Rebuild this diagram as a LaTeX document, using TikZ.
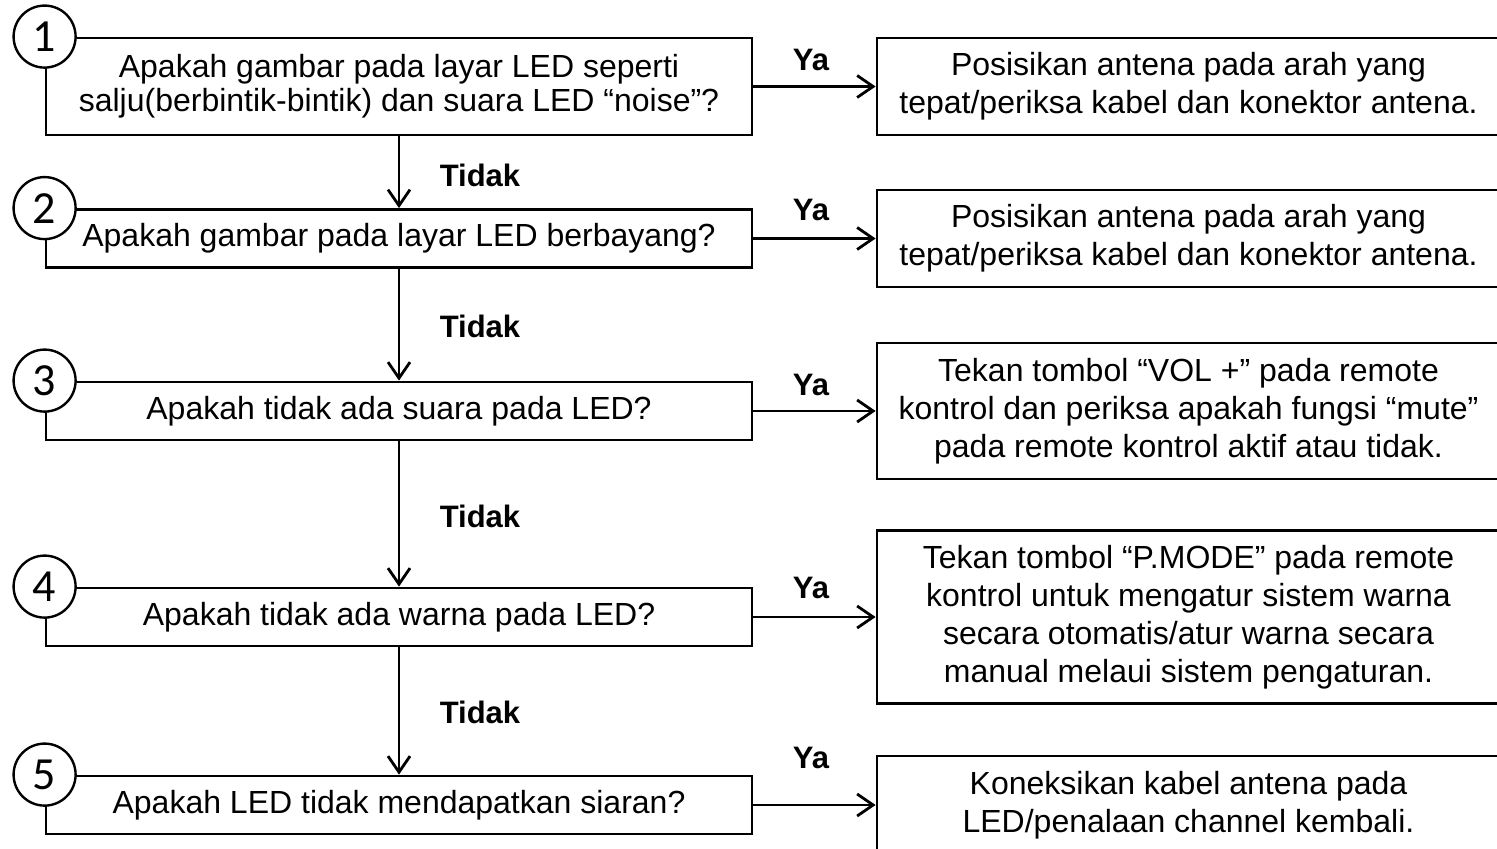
\documentclass[tikz,border=0pt]{standalone}
\usepackage{fontspec}
\setmainfont{Liberation Sans}
\newfontfamily\numfont{Carlito}
\usetikzlibrary{arrows.meta}

\tikzset{
  question/.style={draw, line width=1.4pt, minimum width=353pt, minimum height=29pt, align=center, font=\fontsize{16}{17}\selectfont},
  answer/.style={draw, line width=1.4pt, minimum width=311.5pt, align=center, font=\fontsize{16}{19}\selectfont},
  number/.style={circle, draw, fill=white, line width=1.2pt, minimum size=31pt, inner sep=0pt, font=\numfont\fontsize{23}{23}\selectfont},
  choice/.style={font=\bfseries\fontsize{15.5}{16}\selectfont},
  link/.style={line width=1.4pt, -{Straight Barb[length=8pt,width=11pt]}}
}

\begin{document}
\begin{tikzpicture}[x=0.5pt,y=-0.5pt]
        % page size in pixels of the original
        \useasboundingbox (0,0) rectangle (1497,849);
        \clip (0,0) rectangle (1497,849);

        % the questions
        \node[question, minimum height=48.5pt] (q1) at (399,86.5) {Apakah gambar pada layar LED seperti\\salju(berbintik-bintik) dan suara LED “noise”?};
        \node[question] (q2) at (399,238.5) {Apakah gambar pada layar LED berbayang?};
        \node[question] (q3) at (399,411) {Apakah tidak ada suara pada LED?};
        \node[question] (q4) at (399,617) {Apakah tidak ada warna pada LED?};
        \node[question] (q5) at (399,805) {Apakah LED tidak mendapatkan siaran?};

        % the answers
        \node[answer, minimum height=48.5pt] (r1) at (1188.5,86.5) {Posisikan antena pada arah yang\\tepat/periksa kabel dan konektor antena.};
        \node[answer, minimum height=48.5pt] (r2) at (1188.5,238.5) {Posisikan antena pada arah yang\\tepat/periksa kabel dan konektor antena.};
        \node[answer, minimum height=68pt] (r3) at (1188.5,411) {Tekan tombol “VOL +” pada remote\\kontrol dan periksa apakah fungsi “mute”\\pada remote kontrol aktif atau tidak.};
        \node[answer, minimum height=86.5pt] (r4) at (1188.5,617) {Tekan tombol “P.MODE” pada remote\\kontrol untuk mengatur sistem warna\\secara otomatis/atur warna secara\\manual melaui sistem pengaturan.};
        \node[answer, minimum height=49pt] (r5) at (1188.5,805) {Koneksikan kabel antena pada\\LED/penalaan channel kembali.};

        % step numbers on the corners
        \foreach \i in {1,...,5}
            \node[number] (n\i) at (q\i.north west) {\i};

        % Tidak
        \foreach \i/\j in {1/2,2/3,3/4,4/5}
            \draw[link] (q\i) -- (q\j);
        \node[choice] (t1) at (480,175) {Tidak};
        \node[choice] (t2) at (480,326) {Tidak};
        \node[choice] (t3) at (480,516) {Tidak};
        \node[choice] (t4) at (480,712) {Tidak};

        % Ya
        \foreach \i in {1,...,5}
            \draw[link] (q\i) -- (r\i);
        \node[choice] (y1) at (811,60) {Ya};
        \node[choice] (y2) at (811,210) {Ya};
        \node[choice] (y3) at (811,385) {Ya};
        \node[choice] (y4) at (811,588) {Ya};
        \node[choice] (y5) at (811,758) {Ya};

    \end{tikzpicture}
\end{document}
